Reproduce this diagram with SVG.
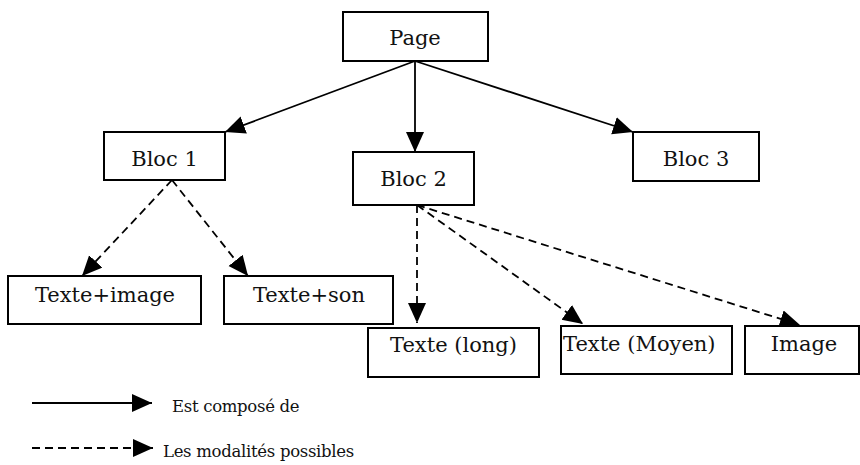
<svg xmlns="http://www.w3.org/2000/svg" width="860" height="465" viewBox="0 0 860 465">
<defs>
<marker id="ah" markerUnits="userSpaceOnUse" markerWidth="21" markerHeight="19" refX="20" refY="9" orient="auto" viewBox="0 0 21 19">
<path d="M0,0 L20,9 L0,18 z" fill="#000"/>
</marker>
<style>
.box{fill:#fff;stroke:#000;stroke-width:2}
.t{font-family:'DejaVu Serif',serif;font-size:21px;fill:#111;text-anchor:middle}
.lg{font-family:'DejaVu Serif',serif;font-size:16.5px;letter-spacing:-0.3px;fill:#111}
.solid{stroke:#000;stroke-width:1.8;fill:none;marker-end:url(#ah)}
.dash{stroke:#000;stroke-width:1.8;fill:none;stroke-dasharray:8 5;marker-end:url(#ah)}
</style>
</defs>
<rect width="860" height="465" fill="#fff"/>
<g id="connectors">
<line class="solid" x1="415" y1="61" x2="225" y2="132"/>
<line class="solid" x1="415" y1="61" x2="415" y2="152"/>
<line class="solid" x1="415" y1="61" x2="633" y2="132"/>
<line class="dash" x1="172" y1="180" x2="82" y2="276"/>
<line class="dash" x1="172" y1="180" x2="248" y2="276"/>
<line class="dash" x1="417" y1="205" x2="417" y2="323"/>
<line class="dash" x1="417" y1="205" x2="583" y2="324"/>
<line class="dash" x1="417" y1="205" x2="800" y2="325"/>
</g>
<g id="page"><rect class="box" x="343" y="12" width="145" height="49"/><text class="t" x="415" y="45">Page</text></g>
<g id="bloc1"><rect class="box" x="104" y="132" width="121" height="48"/><text class="t" x="164.5" y="166">Bloc 1</text></g>
<g id="bloc2"><rect class="box" x="353" y="152" width="121" height="53"/><text class="t" x="413.5" y="186">Bloc 2</text></g>
<g id="bloc3"><rect class="box" x="633" y="132" width="126" height="49"/><text class="t" x="696" y="166">Bloc 3</text></g>
<g id="texte-image"><rect class="box" x="8" y="276" width="193" height="48"/><text class="t" x="105" y="302">Texte+image</text></g>
<g id="texte-son"><rect class="box" x="224" y="276" width="169" height="48"/><text class="t" x="309" y="302">Texte+son</text></g>
<g id="texte-long"><rect class="box" x="368" y="328" width="171" height="49"/><text class="t" x="453.5" y="352">Texte (long)</text></g>
<g id="texte-moyen"><rect class="box" x="561" y="326" width="171" height="48"/><text class="t" x="563" y="351" style="text-anchor:start">Texte (Moyen)</text></g>
<g id="image"><rect class="box" x="745" y="326" width="114" height="48"/><text class="t" x="804" y="351">Image</text></g>
<g id="legend">
<line class="solid" x1="32" y1="403" x2="152" y2="403"/>
<text class="lg" x="172" y="412">Est composé de</text>
<line class="dash" x1="32" y1="448" x2="153" y2="448"/>
<text class="lg" x="163" y="457">Les modalités possibles</text>
</g>
</svg>
